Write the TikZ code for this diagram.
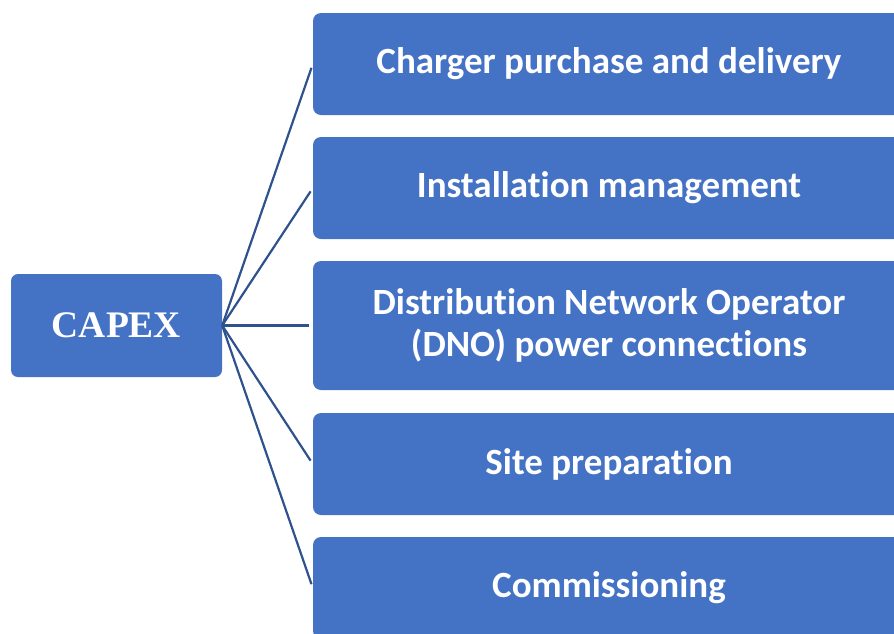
\documentclass[tikz,border=0pt]{standalone}
\usepackage{fontspec}
\setmainfont{Liberation Serif}
\newfontfamily\calfont[Ligatures=NoCommon]{Carlito}
\usepackage{tikz}
\definecolor{boxblue}{HTML}{4472C4}
\definecolor{lineblue}{HTML}{2F528F}

\begin{document}
\begin{tikzpicture}[x=1pt,y=-1pt,
    capbox/.style={fill=boxblue, rounded corners=7pt, minimum width=211pt, minimum height=103pt,
      inner sep=0pt, text=white, font=\fontsize{37.5}{40}\selectfont\bfseries},
    itembox/.style={fill=boxblue, rounded corners=8pt, minimum width=592pt, minimum height=102pt,
      inner sep=0pt, text=white, align=center, font=\calfont\fontsize{37}{42}\selectfont\bfseries},
    link/.style={draw=lineblue, line width=2.2pt, shorten >=4pt}]
  \useasboundingbox (0,0) rectangle (894,633);
  \node [capbox] (capex) at (116.5,325.5) {CAPEX};
  \node [itembox] (charger) at (609,64) {Charger purchase and delivery};
  \node [itembox] (install) at (609,188) {Installation management};
  \node [itembox, minimum height=129pt] (dno) at (609,325.5) {Distribution Network Operator\\(DNO) power connections};
  \node [itembox] (site) at (609,464) {Site preparation};
  \node [itembox] (commission) at (609,588) {Commissioning};

  \foreach \b in {charger,install,dno,site,commission}
    \draw [link] (capex.east) -- (\b.west);
\end{tikzpicture}
\end{document}
